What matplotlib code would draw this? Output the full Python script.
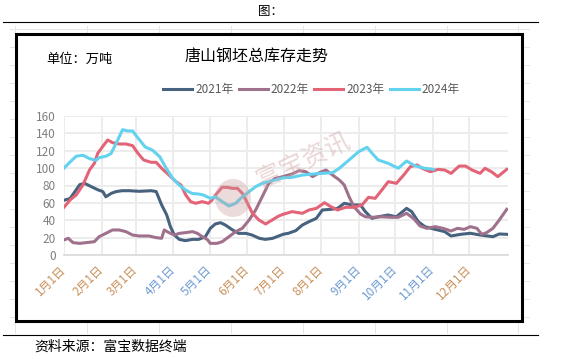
import matplotlib
matplotlib.use('Agg')
import matplotlib.pyplot as plt
from matplotlib.patches import Rectangle, Ellipse
from matplotlib.lines import Line2D

plt.rcParams['font.family'] = ['Noto Sans CJK SC', 'DejaVu Sans']

# 数据（万吨），x 为一年中的第几天
month_starts = [0, 31, 59, 90, 120, 151, 181, 212, 243, 273, 304, 334]
month_labels = ['1月1日', '2月1日', '3月1日', '4月1日', '5月1日', '6月1日',
                '7月1日', '8月1日', '9月1日', '10月1日', '11月1日', '12月1日']

days_2021 = [0, 5, 9, 13, 17, 22, 28, 32, 34.5, 39, 43, 48, 54, 62, 72, 76, 80.5, 84.7,
             87.7, 91, 95, 100, 106, 111, 116.5, 120.6, 124.7, 129, 133, 139, 144, 150,
             155, 161, 166, 172, 177, 181, 185, 191, 196.5, 202, 208, 213, 220, 225.5,
             231, 237.6, 244.4, 248.4, 253.8, 259, 267, 274, 282.4, 286.6, 292, 297.5,
             306, 313.8, 319, 327, 335, 343, 353.6, 358.8, 365]
vals_2021 = [63, 65, 73, 81, 82.5, 79, 75, 73, 67, 71, 73, 74, 74, 73.3, 74, 73, 57.6, 46,
             32.6, 23, 18, 16.5, 18, 18, 21, 30.7, 35.7, 37.2, 34.5, 28.8, 24.9, 24.9,
             23, 19.2, 18, 19.2, 21.9, 24, 25, 28, 34.5, 38.4, 42.2, 51.8, 52.6, 53.7,
             59.5, 57.6, 57.6, 49.9, 42.2, 44, 46, 44, 53.7, 49.9, 38.4, 32.6,
             29.5, 26.9, 21.9, 23.8, 25, 23, 21.1, 24.2, 23.8]

days_2022 = [0, 3.5, 7.5, 13, 18, 25, 29, 34.5, 40, 45.5, 51, 56.5, 62, 70, 76, 80.5, 82.6,
             86.6, 91, 95, 100, 106, 110, 114, 118, 120.6, 126, 130.4, 136, 141.5, 147,
             152.6, 158, 163.4, 168.8, 174, 180, 188, 193.7, 199.3, 205, 210.6, 216,
             221.4, 227, 231, 235, 239, 244.4, 248.4, 254, 262, 270, 275.5, 282.4, 288,
             293.5, 299, 306, 312.5, 319, 324.4, 329.8, 335, 340.4, 344.3, 348.3, 353.6,
             358.8, 365]
vals_2022 = [17.3, 19.2, 14.2, 13.4, 14.2, 15.3, 21.1, 24.9, 28.8, 28.8, 26.9, 23, 21.9,
             21.9, 20, 19.2, 28.8, 25.7, 23, 24.9, 25.7, 26.9, 24.9, 21.1, 18, 13.4, 13.4,
             15.3, 21.1, 26.9, 30.7, 40.3, 51.8, 67.1, 82.5, 88.2, 90, 93.2, 97, 95.9,
             90.2, 94.8, 97.8, 92, 86.3, 80.6, 67.1, 55.6, 47.2, 44, 43.4, 44, 43.4, 43.4,
             48, 42.2, 33.4, 30.7, 32.6, 30.7, 27.6, 30.7, 29.5, 32.6, 30.7, 23.8, 25.7,
             30.7, 40.3, 52.6]

days_2023 = [0, 5, 10, 15.6, 21, 25, 27.8, 31.8, 36, 40, 45.5, 51, 56.5, 61, 65.6, 71.7, 76,
             80.5, 86.6, 92.4, 96.4, 100.4, 104.4, 108.5, 113.8, 119.2, 122, 126, 130.4,
             134.6, 138.8, 143, 147, 151.3, 155.3, 160.7, 166.2, 171.6, 177, 181, 188,
             196.5, 202, 208, 214.7, 220, 225.5, 232, 239, 245.7, 251, 256.5, 262, 267.3,
             274, 280, 285.5, 291, 295.2, 302, 308.5, 313.8, 319.1, 325.8, 331, 336.4,
             343, 347, 352.3, 357.6, 365]
vals_2023 = [55, 63.3, 69, 80.6, 97.8, 105.5, 117, 124.7, 132.4, 129.3, 127.8, 127.8, 125.9,
             117, 109.4, 106.7, 106.7, 99.8, 92, 84.4, 80.6, 69, 61.4, 59.5, 61.4, 59.5,
             63.3, 71, 77.9, 77.9, 76.7, 76.7, 71, 59.5, 48, 40.3, 35.7, 40.3, 44.9, 47,
             49.9, 48, 51.8, 53.7, 60.2, 55.6, 51.8, 54.9, 54.9, 57.6, 66.4, 65.2, 74.8,
             84.4, 82.5, 92, 101.7, 103.6, 99.8, 95.9, 98.6, 97.8, 94, 102.4, 102.4, 97.8,
             94, 99.8, 95.9, 90.2, 98.6]

days_2024 = [0, 5, 10, 15.6, 21, 26.4, 29, 34.6, 38.7, 42.8, 48.3, 52.5, 56.5, 60.8, 66.9,
             73, 79, 83.6, 89.7, 95, 100.4, 105.7, 111, 115, 120.6, 124.7, 130.4, 136,
             141.5, 147, 152.6, 158, 163.4, 168.8, 174, 181, 188, 196.5, 205, 213, 221.4,
             227, 235, 243, 249.8, 254, 259, 267.3, 275.5, 282.4, 289, 297.4, 304.5]
vals_2024 = [100, 107, 113.7, 114.8, 111, 109, 112, 113.7, 116.7, 128, 144.3, 142.8, 142.8,
             135, 124.4, 120.6, 113, 101.4, 88, 80.4, 74.6, 70.8, 70.2, 69, 65.2, 67, 61.4,
             56.4, 59.5, 67, 72.9, 78.7, 82.5, 84.4, 86.3, 89, 89.4, 92, 93.2, 94, 94.8,
             99.8, 109.4, 119, 124, 117, 109.4, 105.5, 99.8, 108.2, 102.8, 99.8, 98.6]

series = [('2021年', days_2021, vals_2021, '#46627f'),
          ('2022年', days_2022, vals_2022, '#a0718c'),
          ('2023年', days_2023, vals_2023, '#e36477'),
          ('2024年', days_2024, vals_2024, '#62d2ee')]

W, H = 567, 359


def fx(px):
    return px / W


def fy(py):
    return 1 - py / H


fig = plt.figure(figsize=(5.67, 3.59), dpi=100)

# faint sheet grid behind the picture
for gx in [15, 87, 159, 231, 303, 375, 447, 518]:
    fig.add_artist(Line2D([fx(gx), fx(gx)], [fy(26), fy(333)], color='#e6e6e6', lw=0.7, zorder=-3))
for gy in range(29, 334, 18):
    fig.add_artist(Line2D([fx(10), fx(529)], [fy(gy), fy(gy)], color='#e6e6e6', lw=0.7, zorder=-3))
fig.add_artist(Rectangle((fx(15.5), fy(320.5)), 506.5 / W, 287 / H, facecolor='white',
                         edgecolor='none', zorder=-1))
fig.add_artist(Rectangle((fx(15.5), fy(320.5)), 506.5 / W, 287 / H, facecolor='none',
                         edgecolor='black', lw=2.2, zorder=5))

# header / footer rules
fig.add_artist(Line2D([fx(3), fx(538)], [fy(22.3), fy(22.3)], color='black', lw=0.8))
fig.add_artist(Line2D([fx(3), fx(538)], [fy(335), fy(335)], color='black', lw=0.8))
fig.text(fx(258), fy(11.5), '图：', fontsize=9, va='center', ha='left', color='black')
fig.text(fx(34), fy(346.5), '资料来源：富宝数据终端', fontsize=10, va='center', ha='left')

ax = fig.add_axes([fx(64), fy(255), 444 / W, 139 / H])
for name, d, v, c in series:
    ax.plot(d, v, color=c, lw=2.2, label=name, solid_joinstyle='round')

ax.set_xlim(0, 366)
ax.set_ylim(0, 160)
ax.set_yticks(range(0, 161, 20))
ax.set_xticks(month_starts)
ax.set_xticklabels(month_labels, rotation=45, ha='right', va='center', rotation_mode='anchor')
ax.tick_params(length=0, labelsize=8.5, colors='#7f7f7f')
ax.tick_params(axis='x', pad=9)
ax.tick_params(axis='y', pad=6)
tick_cols = ['#c8905a', '#c8905a', '#c8905a', '#6f9bd1', '#6f9bd1', '#c8905a',
             '#c8905a', '#c8905a', '#6f9bd1', '#6f9bd1', '#6f9bd1', '#c8905a']
for lab, col in zip(ax.get_xticklabels(), tick_cols):
    lab.set_color(col)
ax.grid(color='#ececec', lw=1.4)
ax.set_axisbelow(True)
for s in ['top', 'right', 'left']:
    ax.spines[s].set_visible(False)
ax.spines['bottom'].set_color('#d9d9d9')
ax.spines['bottom'].set_linewidth(1.2)

fig.text(fx(256.5), fy(57), '唐山钢坯总库存走势', fontsize=11.5, ha='center', va='center')
fig.text(fx(46), fy(59), '单位：万吨', fontsize=9.5, ha='left', va='center')

fig.legend(loc='center', bbox_to_anchor=(fx(311.5), fy(90)), ncol=4, frameon=False,
           fontsize=8.5, handlelength=2.45, handletextpad=0.25, columnspacing=0.45,
           labelcolor='#595959')

# watermark
fig.add_artist(Ellipse((fx(233), fy(198)), 36 / W, 38 / H, facecolor='#c99a9a',
                       edgecolor='none', alpha=0.35, zorder=3))
fig.text(fx(303), fy(160), '富宝资讯', fontsize=18, rotation=25, color='#d4a5a5',
         alpha=0.45, ha='center', va='center')

plt.savefig('out.png', dpi=100)
